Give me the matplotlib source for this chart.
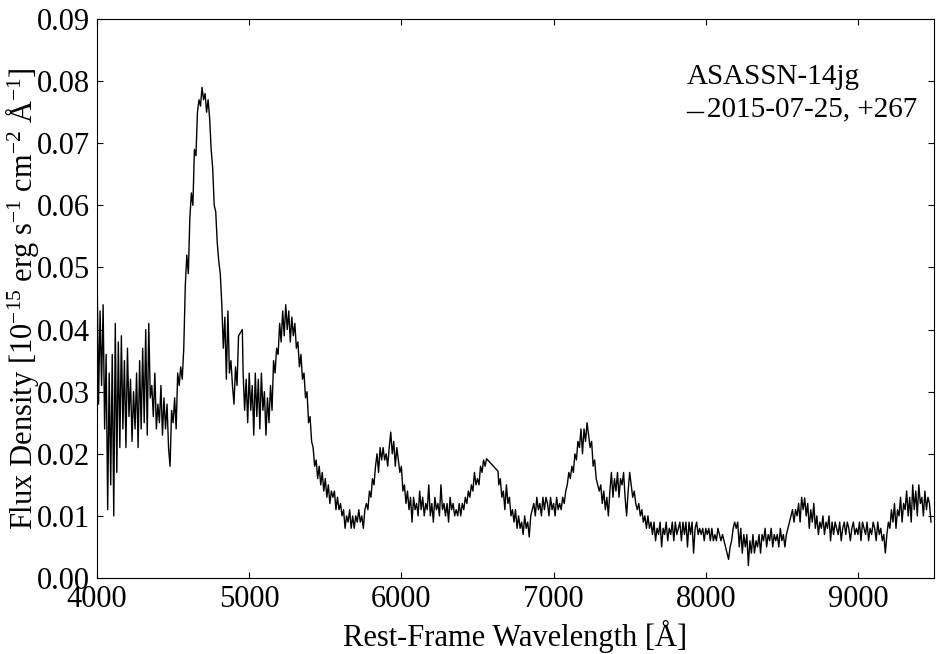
import numpy as np
import matplotlib
matplotlib.use("Agg")
import matplotlib.pyplot as plt
from matplotlib.legend_handler import HandlerLine2D

plt.rcParams["font.family"] = ["Liberation Serif", "DejaVu Serif"]
plt.rcParams["mathtext.fontset"] = "custom"
plt.rcParams["mathtext.rm"] = "Liberation Serif"
plt.rcParams["mathtext.it"] = "Liberation Serif:italic"

# rest-frame wavelength [A] and flux
wave = [
    4000, 4010, 4020, 4030, 4040, 4050, 4060, 4070, 4080, 4090,
    4100, 4110, 4120, 4130, 4140, 4150, 4160, 4170, 4180, 4190,
    4200, 4210, 4220, 4230, 4240, 4250, 4260, 4270, 4280, 4290,
    4300, 4310, 4320, 4330, 4340, 4350, 4360, 4370, 4380, 4390,
    4400, 4410, 4420, 4430, 4440, 4450, 4460, 4470, 4480, 4490,
    4500, 4510, 4520, 4530, 4540, 4550, 4560, 4570, 4580, 4590,
    4600, 4610, 4620, 4630, 4640, 4650, 4660, 4670, 4680, 4690,
    4700, 4710, 4720, 4730, 4740, 4750, 4760, 4770, 4780, 4790,
    4800, 4810, 4820, 4830, 4840, 4850, 4860, 4870, 4880, 4890,
    4900, 4910, 4920, 4930, 4955, 4960, 4970, 4980, 4990,
    5000, 5010, 5020, 5030, 5040, 5050, 5060, 5070, 5080, 5090,
    5100, 5110, 5120, 5130, 5140, 5150, 5160, 5170, 5180, 5190,
    5200, 5210, 5220, 5230, 5240, 5250, 5260, 5270, 5280, 5290,
    5300, 5310, 5320, 5330, 5340, 5350, 5360, 5370, 5380, 5390,
    5400, 5410, 5420, 5430, 5440, 5450, 5460, 5470, 5480, 5490,
    5500, 5510, 5520, 5530, 5540, 5550, 5560, 5570, 5580, 5590,
    5600, 5610, 5620, 5630, 5640, 5650, 5660, 5670, 5680, 5690,
    5700, 5710, 5720, 5730, 5740, 5750, 5760, 5770, 5780, 5790,
    5800, 5810, 5820, 5830, 5840, 5850, 5860, 5870, 5880, 5890,
    5900, 5910, 5920, 5930, 5940, 5950, 5960, 5970, 5980, 5990,
    6000, 6010, 6020, 6030, 6040, 6050, 6060, 6070, 6080, 6090,
    6100, 6110, 6120, 6130, 6140, 6150, 6160, 6170, 6180, 6190,
    6200, 6210, 6220, 6230, 6240, 6250, 6260, 6270, 6280, 6290,
    6300, 6310, 6320, 6330, 6340, 6350, 6360, 6370, 6380, 6390,
    6400, 6410, 6420, 6430, 6440, 6450, 6460, 6470, 6480, 6490,
    6500, 6510, 6520, 6530, 6540, 6550, 6560, 6635, 6640, 6650,
    6660, 6670, 6680, 6690,
    6700, 6710, 6720, 6730, 6740, 6750, 6760, 6770, 6780, 6790,
    6800, 6810, 6820, 6830, 6840, 6850, 6860, 6870, 6880, 6890,
    6900, 6910, 6920, 6930, 6940, 6950, 6960, 6970, 6980, 6990,
    7000, 7010, 7020, 7030, 7040, 7050, 7060, 7070, 7080, 7090,
    7100, 7110, 7120, 7130, 7140, 7150, 7160, 7170, 7180, 7190,
    7200, 7210, 7220, 7230, 7240, 7250, 7260, 7270, 7280, 7290,
    7300, 7310, 7320, 7330, 7340, 7350, 7360, 7370, 7380, 7390,
    7400, 7410, 7420, 7430, 7440, 7450, 7460, 7470, 7480, 7490,
    7500, 7510, 7520, 7530, 7540, 7550, 7560, 7570, 7580, 7590,
    7600, 7610, 7620, 7630, 7640, 7650, 7660, 7670, 7680, 7690,
    7700, 7710, 7720, 7730, 7740, 7750, 7760, 7770, 7780, 7790,
    7800, 7810, 7820, 7830, 7840, 7850, 7860, 7870, 7880, 7890,
    7900, 7910, 7920, 7930, 7940, 7950, 7960, 7970, 7980, 7990,
    8000, 8010, 8020, 8030, 8040, 8050, 8060, 8070, 8080, 8090,
    8100, 8110, 8120, 8130, 8140, 8150, 8160, 8170, 8180, 8190,
    8200, 8210, 8220, 8230, 8240, 8250, 8260, 8270, 8280, 8290,
    8300, 8310, 8320, 8330, 8340, 8350, 8360, 8370, 8380, 8390,
    8400, 8410, 8420, 8430, 8440, 8450, 8460, 8470, 8480, 8490,
    8500, 8510, 8520, 8530, 8540, 8550, 8560, 8570, 8580, 8590,
    8600, 8610, 8620, 8630, 8640, 8650, 8660, 8670, 8680, 8690,
    8700, 8710, 8720, 8730, 8740, 8750, 8760, 8770, 8780, 8790,
    8800, 8810, 8820, 8830, 8840, 8850, 8860, 8870, 8880, 8890,
    8900, 8910, 8920, 8930, 8940, 8950, 8960, 8970, 8980, 8990,
    9000, 9010, 9020, 9030, 9040, 9050, 9060, 9070, 9080, 9090,
    9100, 9110, 9120, 9130, 9140, 9150, 9160, 9170, 9180, 9190,
    9200, 9210, 9220, 9230, 9240, 9250, 9260, 9270, 9280, 9290,
    9300, 9310, 9320, 9330, 9340, 9350, 9360, 9370, 9380, 9390,
    9400, 9410, 9420, 9430, 9440, 9450, 9460, 9470, 9480,
]
flux = [
    0.050, 0.028, 0.043, 0.031, 0.044, 0.024, 0.036, 0.011, 0.033, 0.015,
    0.036, 0.010, 0.041, 0.017, 0.038, 0.021, 0.039, 0.024, 0.035, 0.021,
    0.037, 0.026, 0.032, 0.022, 0.030, 0.024, 0.033, 0.021, 0.035, 0.024,
    0.037, 0.025, 0.040, 0.023, 0.041, 0.029, 0.031, 0.026, 0.033, 0.024,
    0.028, 0.025, 0.031, 0.023, 0.029, 0.024, 0.028, 0.021, 0.018, 0.027,
    0.025, 0.029, 0.024, 0.033, 0.031, 0.034, 0.032, 0.037, 0.047, 0.052,
    0.049, 0.058, 0.062, 0.060, 0.069, 0.068, 0.075, 0.077, 0.076, 0.079,
    0.077, 0.078, 0.075, 0.077, 0.074, 0.069, 0.066, 0.060, 0.059, 0.054,
    0.051, 0.049, 0.044, 0.037, 0.042, 0.032, 0.043, 0.033, 0.035, 0.031,
    0.028, 0.034, 0.031, 0.039, 0.040, 0.033, 0.027, 0.032, 0.025,
    0.033, 0.027, 0.031, 0.023, 0.033, 0.026, 0.032, 0.024, 0.033, 0.027,
    0.030, 0.023, 0.029, 0.025, 0.031, 0.027, 0.035, 0.033, 0.037, 0.036,
    0.041, 0.038, 0.043, 0.039, 0.044, 0.040, 0.043, 0.038, 0.042, 0.039,
    0.041, 0.037, 0.038, 0.034, 0.036, 0.032, 0.033, 0.029, 0.030, 0.025,
    0.026, 0.022, 0.021, 0.018, 0.019, 0.016, 0.018, 0.015, 0.017, 0.014,
    0.016, 0.013, 0.015, 0.012, 0.014, 0.013, 0.014, 0.011, 0.013, 0.011,
    0.012, 0.010, 0.011, 0.008, 0.010, 0.009, 0.011, 0.008, 0.010, 0.008,
    0.010, 0.009, 0.011, 0.009, 0.010, 0.008, 0.011, 0.012, 0.011, 0.014,
    0.013, 0.016, 0.015, 0.018, 0.020, 0.017, 0.021, 0.019, 0.021, 0.019,
    0.020, 0.018, 0.021, 0.0235, 0.020, 0.022, 0.018, 0.021, 0.019, 0.017,
    0.018, 0.014, 0.015, 0.012, 0.014, 0.011, 0.013, 0.009, 0.013, 0.011,
    0.012, 0.010, 0.014, 0.011, 0.013, 0.010, 0.012, 0.011, 0.015, 0.010,
    0.012, 0.009, 0.013, 0.011, 0.012, 0.010, 0.015, 0.011, 0.012, 0.010,
    0.012, 0.009, 0.013, 0.011, 0.012, 0.010, 0.011, 0.010, 0.012, 0.010,
    0.012, 0.011, 0.013, 0.012, 0.014, 0.013, 0.015, 0.014, 0.017, 0.015,
    0.016, 0.015, 0.018, 0.017, 0.019, 0.018, 0.0192, 0.0172, 0.015, 0.016,
    0.013, 0.014, 0.011, 0.015,
    0.012, 0.013, 0.010, 0.011, 0.009, 0.011, 0.008, 0.010, 0.008, 0.009,
    0.007, 0.010, 0.008, 0.009, 0.0066, 0.010, 0.011, 0.012, 0.010, 0.013,
    0.011, 0.012, 0.010, 0.013, 0.011, 0.013, 0.012, 0.010, 0.013, 0.011,
    0.012, 0.010, 0.013, 0.011, 0.012, 0.011, 0.013, 0.012, 0.014, 0.015,
    0.017, 0.016, 0.018, 0.017, 0.020, 0.019, 0.022, 0.021, 0.024, 0.020,
    0.024, 0.022, 0.025, 0.023, 0.021, 0.022, 0.018, 0.019, 0.016, 0.015,
    0.014, 0.015, 0.012, 0.014, 0.011, 0.013, 0.010, 0.014, 0.017, 0.013,
    0.016, 0.014, 0.017, 0.013, 0.016, 0.015, 0.017, 0.013, 0.010, 0.014,
    0.017, 0.015, 0.013, 0.014, 0.012, 0.011, 0.012, 0.010, 0.011, 0.009,
    0.010, 0.008, 0.010, 0.008, 0.009, 0.007, 0.009, 0.006, 0.008, 0.007,
    0.009, 0.005, 0.008, 0.007, 0.009, 0.006, 0.008, 0.007, 0.009, 0.006,
    0.009, 0.007, 0.008, 0.009, 0.006, 0.009, 0.007, 0.009, 0.005, 0.009,
    0.007, 0.009, 0.004, 0.008, 0.009, 0.007, 0.008, 0.007, 0.008, 0.006,
    0.008, 0.007, 0.008, 0.006, 0.008, 0.006, 0.007, 0.006, 0.008, 0.007,
    0.006, 0.007, 0.006, 0.005, 0.004, 0.003, 0.005, 0.006, 0.008, 0.009,
    0.008, 0.009, 0.005, 0.008, 0.004, 0.007, 0.005, 0.007, 0.002, 0.006,
    0.004, 0.007, 0.004, 0.006, 0.005, 0.007, 0.004, 0.007, 0.006, 0.008,
    0.005, 0.007, 0.006, 0.008, 0.005, 0.007, 0.006, 0.007, 0.005, 0.008,
    0.006, 0.007, 0.005, 0.007, 0.008, 0.009, 0.010, 0.011, 0.009, 0.011,
    0.010, 0.012, 0.009, 0.013, 0.011, 0.0129, 0.010, 0.012, 0.008, 0.011,
    0.009, 0.012, 0.008, 0.010, 0.007, 0.009, 0.008, 0.010, 0.007, 0.009,
    0.008, 0.010, 0.006, 0.009, 0.007, 0.009, 0.008, 0.007, 0.009, 0.006,
    0.008, 0.009, 0.007, 0.009, 0.008, 0.006, 0.008, 0.009, 0.007, 0.008,
    0.007, 0.009, 0.006, 0.009, 0.008, 0.007, 0.009, 0.006, 0.008, 0.007,
    0.009, 0.008, 0.006, 0.009, 0.007, 0.008, 0.006, 0.007, 0.004, 0.007,
    0.009, 0.008, 0.011, 0.009, 0.012, 0.008, 0.011, 0.010, 0.013, 0.009,
    0.012, 0.011, 0.014, 0.010, 0.013, 0.009, 0.015, 0.011, 0.014, 0.010,
    0.015, 0.012, 0.013, 0.010, 0.014, 0.011, 0.013, 0.012, 0.009,
]

obj_name = "ASASSN-14jg"
epoch_label = "2015-07-25, +267"


class LowLineHandler(HandlerLine2D):
    # put the legend dash near the text baseline
    def create_artists(self, legend, orig_handle, xdescent, ydescent,
                       width, height, fontsize, trans):
        arts = super().create_artists(legend, orig_handle, xdescent, ydescent,
                                      width, height, fontsize, trans)
        for a in arts:
            a.set_ydata([y - 0.28 * height for y in a.get_ydata()])
        return arts


fig = plt.figure(figsize=(9.41, 6.54), dpi=100)
ax = fig.add_axes([0.1031, 0.1162, 0.8895, 0.8547])

line, = ax.plot(wave, flux, color="black", linewidth=1.0, label=epoch_label)

ax.set_xlim(4000, 9500)
ax.set_ylim(0, 0.09)
ax.set_xticks([4000, 5000, 6000, 7000, 8000, 9000])
ax.set_yticks(np.arange(0, 0.091, 0.01))
ax.yaxis.set_major_formatter(plt.FormatStrFormatter("%.2f"))
ax.tick_params(direction="in", top=True, right=True, length=4,
               labelsize=22, pad=5)

ax.set_xlabel("Rest-Frame Wavelength [Å]", fontsize=22)
ax.set_ylabel(r"Flux Density [$10^{-15}$ erg s$^{-1}$ cm$^{-2}$ Å$^{-1}$]",
              fontsize=22)
ax.yaxis.set_label_coords(-0.067, 0.5)

leg = ax.legend(handler_map={line: LowLineHandler()},
                loc="upper right", bbox_to_anchor=(0.994, 0.94),
                borderaxespad=0, frameon=False, fontsize=21,
                title=obj_name, title_fontsize=21, handlelength=0.55,
                handletextpad=0.15, alignment="left", labelspacing=0.2)

fig.savefig("out.png", dpi=100)
